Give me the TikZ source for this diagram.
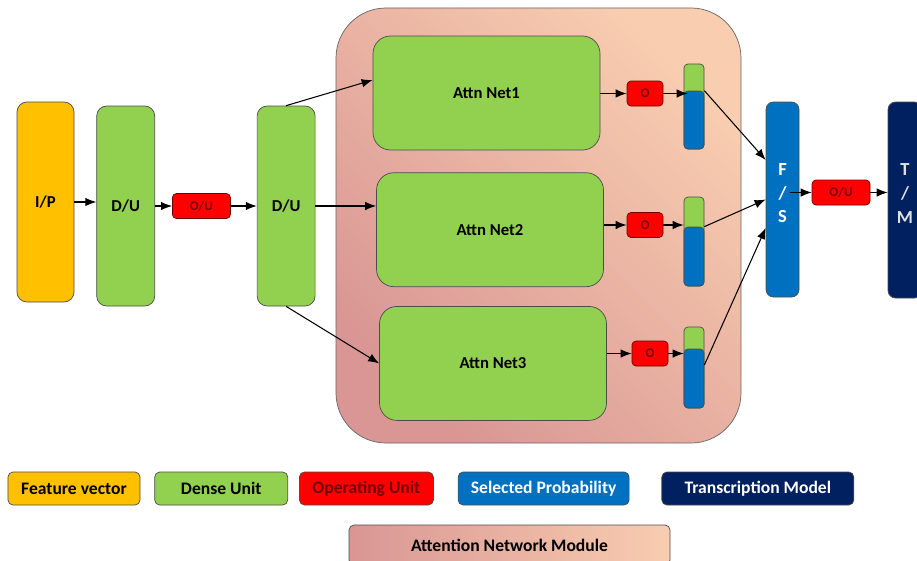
\documentclass[tikz,border=0pt]{standalone}
\usepackage{fontspec}
\setmainfont{Carlito}
\usetikzlibrary{positioning,arrows.meta}

\definecolor{featorange}{HTML}{FFC000}
\definecolor{densegreen}{HTML}{92D050}
\definecolor{opred}{HTML}{FF0000}
\definecolor{optext}{HTML}{700000}
\definecolor{probblue}{HTML}{0070C0}
\definecolor{transnavy}{HTML}{002060}
\definecolor{peach}{HTML}{F8CDB0}
\definecolor{rosy}{HTML}{D99694}

\newcommand{\stacktext}[1]{\raisebox{0.82cm}{\begin{tabular}{@{}c@{}}#1\end{tabular}}}

\begin{document}
\begin{tikzpicture}[auto, font=\bfseries\fontsize{9.5}{12.5}\selectfont]

    % Styles
    \tikzstyle{feature} = [rectangle, rounded corners=0.2cm, minimum width=1.14cm, minimum height=4cm, text centered, draw=black!70, fill=featorange]
    \tikzstyle{dense} = [rectangle, rounded corners=0.2cm, minimum width=1.16cm, minimum height=4cm, text centered, draw=black!70, fill=densegreen]
    \tikzstyle{attnnet} = [rectangle, rounded corners=0.35cm, minimum width=4.54cm, minimum height=2.28cm, text centered, draw=black!70, fill=densegreen]
    \tikzstyle{operating} = [rectangle, rounded corners=0.08cm, minimum width=1.16cm, minimum height=0.5cm, inner sep=0pt, text centered, draw=optext, fill=opred, text=optext, font=\bfseries\fontsize{7.5}{9}\selectfont]
    \tikzstyle{opsmall} = [operating, minimum width=0.72cm]
    \tikzstyle{bargreen} = [rectangle, rounded corners=0.08cm, minimum width=0.4cm, inner sep=0pt, draw=black!70, fill=densegreen]
    \tikzstyle{barblue} = [rectangle, rounded corners=0.08cm, minimum width=0.4cm, inner sep=0pt, draw=black!70, fill=probblue]
    \tikzstyle{selected} = [rectangle, rounded corners=0.15cm, minimum width=0.66cm, minimum height=3.9cm, inner sep=0pt, draw=black!70, fill=probblue, text=white, font=\bfseries\fontsize{10.5}{13.5}\selectfont]
    \tikzstyle{transcr} = [rectangle, rounded corners=0.15cm, minimum width=0.68cm, minimum height=3.92cm, inner sep=0pt, draw=black!70, fill=transnavy, text=black!12, font=\bfseries\fontsize{10.5}{13.5}\selectfont]
    \tikzstyle{legend} = [rectangle, rounded corners=0.1cm, minimum height=0.66cm, text centered, draw=black!70, font=\bfseries\fontsize{10}{12}\selectfont]
    \tikzstyle{arrow} = [line width=0.6pt,->,>={Latex[length=2.2mm,width=1.7mm]}]

    \useasboundingbox (0,0) rectangle (18.34,-11.2);

    % Module
    \node (module) [rectangle, rounded corners=1cm, minimum width=8.1cm, minimum height=8.7cm, draw=black!60, top color=peach, bottom color=rosy, shading angle=-45] at (10.77,-4.51) {};

    % Noeuds
    \node (ip) [feature] at (0.91,-4.04) {I/P};
    \node (du1) [dense, right=0.44cm of ip, yshift=-0.08cm] {D/U};
    \node (ou1) [operating, right=0.34cm of du1] {O/U};
    \node (du2) [dense, right=0.52cm of ou1] {D/U};

    \node (net1) [attnnet] at (9.73,-1.86) {Attn Net1};
    \node (net2) [attnnet, below=0.44cm of net1, xshift=0.07cm] {Attn Net2};
    \node (net3) [attnnet, below=0.38cm of net2, xshift=0.06cm] {Attn Net3};

    \node (o1) [opsmall] at (12.9,-1.87) {O};
    \node (o2) [opsmall] at (12.9,-4.5) {O};
    \node (o3) [opsmall] at (13.0,-7.07) {O};

    \node (b1g) [bargreen, minimum height=1.7cm] at (13.88,-2.13) {};
    \node (b1b) [barblue, minimum height=1.16cm] at (13.88,-2.4) {};
    \node (b2g) [bargreen, minimum height=1.78cm] at (13.88,-4.83) {};
    \node (b2b) [barblue, minimum height=1.18cm] at (13.88,-5.13) {};
    \node (b3g) [bargreen, minimum height=1.62cm] at (13.88,-7.35) {};
    \node (b3b) [barblue, minimum height=1.18cm] at (13.88,-7.57) {};

    \node (fs) [selected] at (15.65,-3.99) {\stacktext{F\\/\\S}};
    \node (ou2) [operating] at (16.82,-3.85) {O/U};
    \node (tm) [transcr] at (18.1,-4.0) {\stacktext{T\\/\\M}};

    % Legende
    \node (leg1) [legend, fill=featorange, minimum width=2.64cm] at (1.48,-9.77) {Feature vector};
    \node (leg2) [legend, fill=densegreen, minimum width=2.66cm, right=0.28cm of leg1] {Dense Unit};
    \node (leg3) [legend, fill=opred, text=optext, minimum width=2.68cm, right=0.22cm of leg2] {Operating Unit};
    \node (leg4) [legend, fill=probblue, text=white, minimum width=3.42cm, right=0.48cm of leg3] {Selected Probability};
    \node (leg5) [legend, fill=transnavy, text=white, minimum width=3.84cm, right=0.64cm of leg4] {Transcription Model};
    \node (leg6) [legend, left color=rosy, right color=peach, minimum width=6.42cm, minimum height=0.8cm] at (10.19,-10.9) {Attention Network Module};

    % Flèches
    \draw [arrow] (ip) -- (ip -| du1.west);
    \draw [arrow] (du1.east |- ou1) -- (ou1);
    \draw [arrow] (ou1) -- (ou1 -| du2.west);
    \draw [arrow] (du2.north) -- ([yshift=0.26cm]net1.west);
    \draw [arrow] (du2.east) -- (du2.east -| net2.west);
    \draw [arrow] (du2.south) -- (net3.west);
    \draw [arrow] (net1.east |- o1) -- (o1);
    \draw [arrow] (net2.east |- o2) -- (o2);
    \draw [arrow] (net3.east |- o3) -- (o3);
    \draw [arrow] (o1) -- ([xshift=0.08cm]o1 -| b1b.west);
    \draw [arrow] (o2) -- (o2 -| b2b.west);
    \draw [arrow] (o3) -- (o3 -| b3b.west);
    \draw [arrow] (b1b.north east) -- ([yshift=0.79cm]fs.west);
    \draw [arrow] (b2b.north east) -- (fs.west);
    \draw [arrow] ([yshift=0.27cm]b3b.east) -- ([yshift=-0.57cm]fs.west);
    \draw [arrow] ([xshift=-0.18cm]fs.east |- ou2) -- (ou2);
    \draw [arrow] (ou2) -- (ou2 -| tm.west);

\end{tikzpicture}
\end{document}
